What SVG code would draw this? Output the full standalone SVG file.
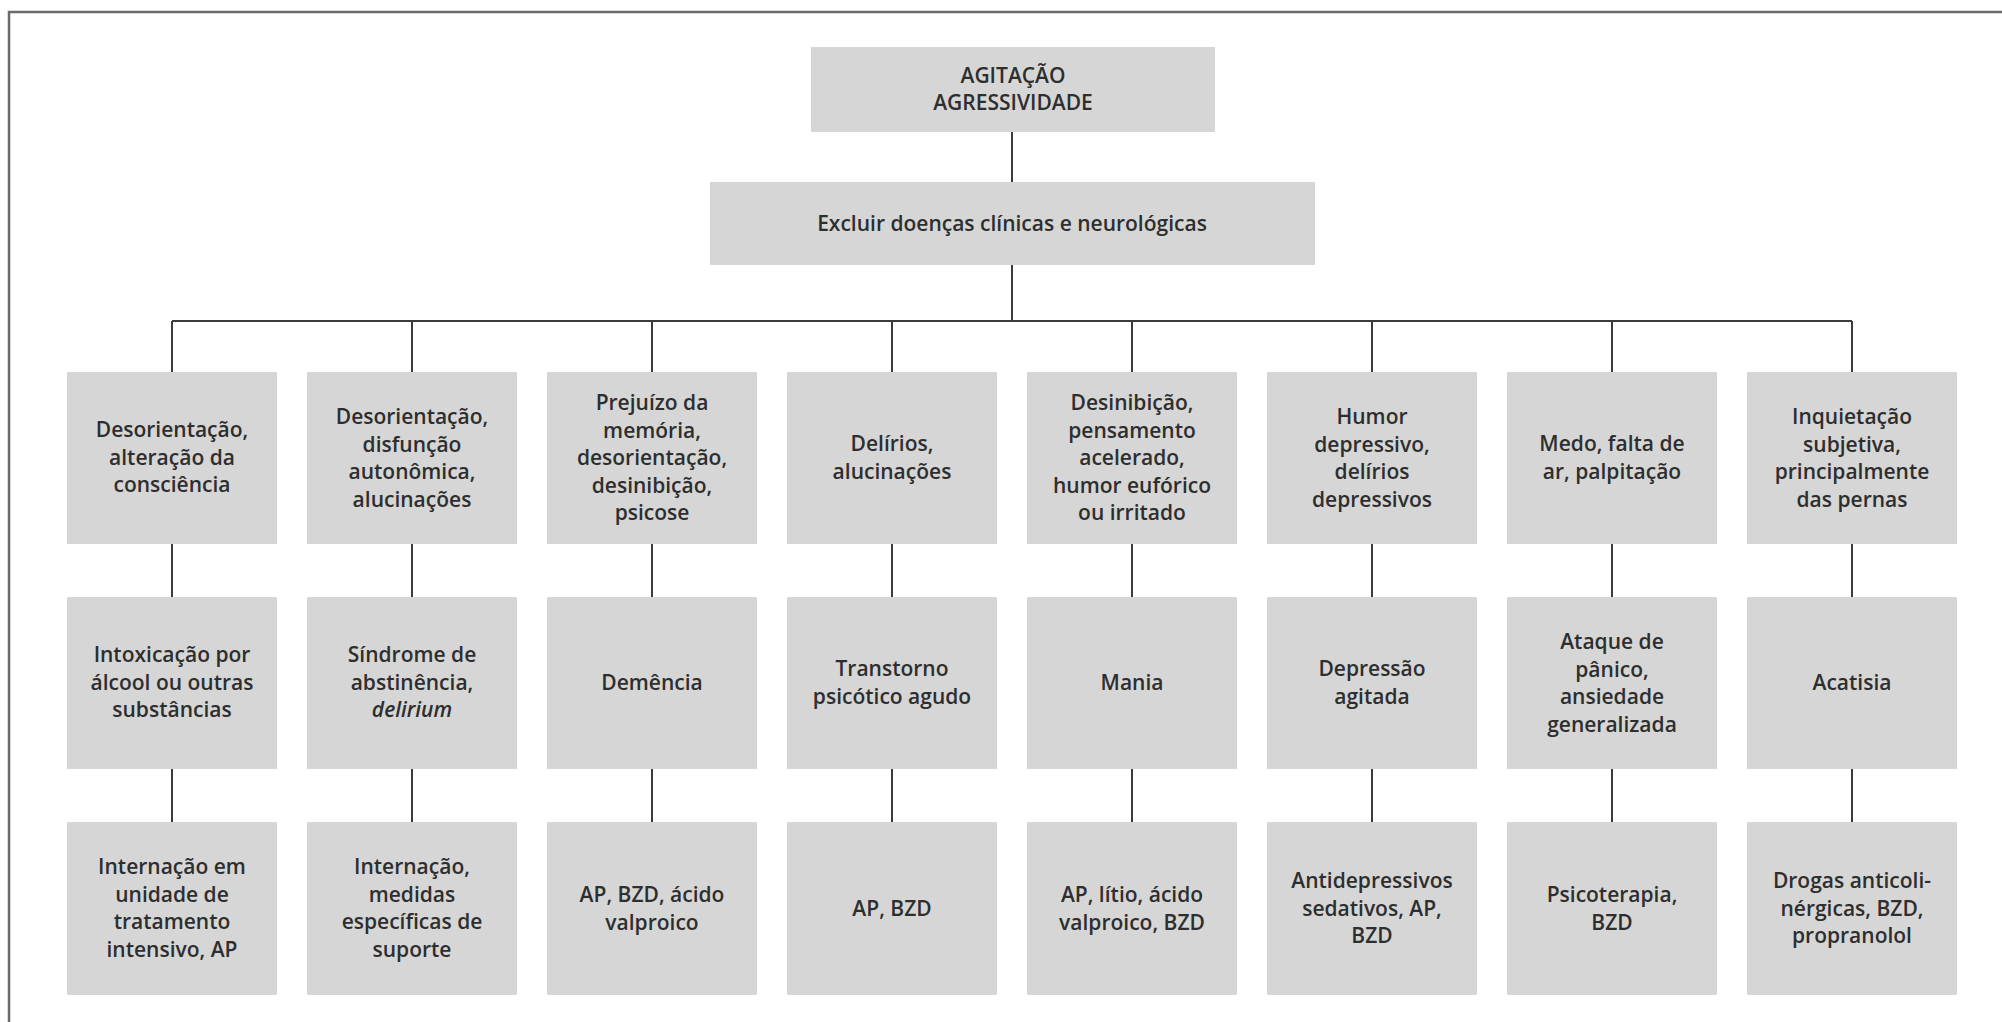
<svg xmlns="http://www.w3.org/2000/svg" width="2002" height="1022" viewBox="0 0 2002 1022">
  <style>
    .frame { stroke: #6a6a6a; stroke-width: 2.5; fill: none; }
    .box { fill: #d6d6d6; }
    .link { stroke: #3c3c3c; stroke-width: 2; fill: none; }
    .lbl { font-family: "Open Sans", "Noto Sans", "DejaVu Sans", sans-serif; font-size: 21px; font-weight: 600; fill: #2e2e2e; text-anchor: middle; }
    .it { font-style: italic; }
  </style>

  <!-- page frame (top and left edges) -->
  <path class="frame" d="M9,1022 V12 H2002"/>

  <!-- connectors -->
  <g id="connectors">
    <line class="link" x1="1012" y1="132" x2="1012" y2="182"/>
    <line class="link" x1="1012" y1="265" x2="1012" y2="321"/>
    <line class="link" x1="172" y1="321" x2="1852" y2="321"/>
    <path class="link" d="M172,321 V372 M172,544 V597 M172,769 V822"/>
    <path class="link" d="M412,321 V372 M412,544 V597 M412,769 V822"/>
    <path class="link" d="M652,321 V372 M652,544 V597 M652,769 V822"/>
    <path class="link" d="M892,321 V372 M892,544 V597 M892,769 V822"/>
    <path class="link" d="M1132,321 V372 M1132,544 V597 M1132,769 V822"/>
    <path class="link" d="M1372,321 V372 M1372,544 V597 M1372,769 V822"/>
    <path class="link" d="M1612,321 V372 M1612,544 V597 M1612,769 V822"/>
    <path class="link" d="M1852,321 V372 M1852,544 V597 M1852,769 V822"/>
  </g>

  <!-- root -->
  <g id="root">
    <rect class="box" x="811" y="47" width="404" height="85"/>
    <text class="lbl" x="1013" y="83">AGITAÇÃO<tspan x="1013" dy="27">AGRESSIVIDADE</tspan></text>
  </g>

  <g id="exclude">
    <rect class="box" x="710" y="182" width="605" height="83"/>
    <text class="lbl" x="1012" y="231">Excluir doenças clínicas e neurológicas</text>
  </g>

  <!-- column 1 -->
  <g id="c1-sign">
    <rect class="box" x="67" y="372" width="210" height="172"/>
    <text class="lbl" x="172" y="437">Desorientação,<tspan x="172" dy="27.5">alteração da</tspan><tspan x="172" dy="27.5">consciência</tspan></text>
  </g>
  <g id="c1-dx">
    <rect class="box" x="67" y="597" width="210" height="172"/>
    <text class="lbl" x="172" y="662">Intoxicação por<tspan x="172" dy="27.5">álcool ou outras</tspan><tspan x="172" dy="27.5">substâncias</tspan></text>
  </g>
  <g id="c1-tx">
    <rect class="box" x="67" y="822" width="210" height="173"/>
    <text class="lbl" x="172" y="874">Internação em<tspan x="172" dy="27.5">unidade de</tspan><tspan x="172" dy="27.5">tratamento</tspan><tspan x="172" dy="27.5">intensivo, AP</tspan></text>
  </g>

  <!-- column 2 -->
  <g id="c2-sign">
    <rect class="box" x="307" y="372" width="210" height="172"/>
    <text class="lbl" x="412" y="424">Desorientação,<tspan x="412" dy="27.5">disfunção</tspan><tspan x="412" dy="27.5">autonômica,</tspan><tspan x="412" dy="27.5">alucinações</tspan></text>
  </g>
  <g id="c2-dx">
    <rect class="box" x="307" y="597" width="210" height="172"/>
    <text class="lbl" x="412" y="662">Síndrome de<tspan x="412" dy="27.5">abstinência,</tspan><tspan class="it" x="412" dy="27.5">delirium</tspan></text>
  </g>
  <g id="c2-tx">
    <rect class="box" x="307" y="822" width="210" height="173"/>
    <text class="lbl" x="412" y="874">Internação,<tspan x="412" dy="27.5">medidas</tspan><tspan x="412" dy="27.5">específicas de</tspan><tspan x="412" dy="27.5">suporte</tspan></text>
  </g>

  <!-- column 3 -->
  <g id="c3-sign">
    <rect class="box" x="547" y="372" width="210" height="172"/>
    <text class="lbl" x="652" y="410">Prejuízo da<tspan x="652" dy="27.5">memória,</tspan><tspan x="652" dy="27.5">desorientação,</tspan><tspan x="652" dy="27.5">desinibição,</tspan><tspan x="652" dy="27.5">psicose</tspan></text>
  </g>
  <g id="c3-dx">
    <rect class="box" x="547" y="597" width="210" height="172"/>
    <text class="lbl" x="652" y="690">Demência</text>
  </g>
  <g id="c3-tx">
    <rect class="box" x="547" y="822" width="210" height="173"/>
    <text class="lbl" x="652" y="902">AP, BZD, ácido<tspan x="652" dy="27.5">valproico</tspan></text>
  </g>

  <!-- column 4 -->
  <g id="c4-sign">
    <rect class="box" x="787" y="372" width="210" height="172"/>
    <text class="lbl" x="892" y="451">Delírios,<tspan x="892" dy="27.5">alucinações</tspan></text>
  </g>
  <g id="c4-dx">
    <rect class="box" x="787" y="597" width="210" height="172"/>
    <text class="lbl" x="892" y="676">Transtorno<tspan x="892" dy="27.5">psicótico agudo</tspan></text>
  </g>
  <g id="c4-tx">
    <rect class="box" x="787" y="822" width="210" height="173"/>
    <text class="lbl" x="892" y="916">AP, BZD</text>
  </g>

  <!-- column 5 -->
  <g id="c5-sign">
    <rect class="box" x="1027" y="372" width="210" height="172"/>
    <text class="lbl" x="1132" y="410">Desinibição,<tspan x="1132" dy="27.5">pensamento</tspan><tspan x="1132" dy="27.5">acelerado,</tspan><tspan x="1132" dy="27.5">humor eufórico</tspan><tspan x="1132" dy="27.5">ou irritado</tspan></text>
  </g>
  <g id="c5-dx">
    <rect class="box" x="1027" y="597" width="210" height="172"/>
    <text class="lbl" x="1132" y="690">Mania</text>
  </g>
  <g id="c5-tx">
    <rect class="box" x="1027" y="822" width="210" height="173"/>
    <text class="lbl" x="1132" y="902">AP, lítio, ácido<tspan x="1132" dy="27.5">valproico, BZD</tspan></text>
  </g>

  <!-- column 6 -->
  <g id="c6-sign">
    <rect class="box" x="1267" y="372" width="210" height="172"/>
    <text class="lbl" x="1372" y="424">Humor<tspan x="1372" dy="27.5">depressivo,</tspan><tspan x="1372" dy="27.5">delírios</tspan><tspan x="1372" dy="27.5">depressivos</tspan></text>
  </g>
  <g id="c6-dx">
    <rect class="box" x="1267" y="597" width="210" height="172"/>
    <text class="lbl" x="1372" y="676">Depressão<tspan x="1372" dy="27.5">agitada</tspan></text>
  </g>
  <g id="c6-tx">
    <rect class="box" x="1267" y="822" width="210" height="173"/>
    <text class="lbl" x="1372" y="888">Antidepressivos<tspan x="1372" dy="27.5">sedativos, AP,</tspan><tspan x="1372" dy="27.5">BZD</tspan></text>
  </g>

  <!-- column 7 -->
  <g id="c7-sign">
    <rect class="box" x="1507" y="372" width="210" height="172"/>
    <text class="lbl" x="1612" y="451">Medo, falta de<tspan x="1612" dy="27.5">ar, palpitação</tspan></text>
  </g>
  <g id="c7-dx">
    <rect class="box" x="1507" y="597" width="210" height="172"/>
    <text class="lbl" x="1612" y="649">Ataque de<tspan x="1612" dy="27.5">pânico,</tspan><tspan x="1612" dy="27.5">ansiedade</tspan><tspan x="1612" dy="27.5">generalizada</tspan></text>
  </g>
  <g id="c7-tx">
    <rect class="box" x="1507" y="822" width="210" height="173"/>
    <text class="lbl" x="1612" y="902">Psicoterapia,<tspan x="1612" dy="27.5">BZD</tspan></text>
  </g>

  <!-- column 8 -->
  <g id="c8-sign">
    <rect class="box" x="1747" y="372" width="210" height="172"/>
    <text class="lbl" x="1852" y="424">Inquietação<tspan x="1852" dy="27.5">subjetiva,</tspan><tspan x="1852" dy="27.5">principalmente</tspan><tspan x="1852" dy="27.5">das pernas</tspan></text>
  </g>
  <g id="c8-dx">
    <rect class="box" x="1747" y="597" width="210" height="172"/>
    <text class="lbl" x="1852" y="690">Acatisia</text>
  </g>
  <g id="c8-tx">
    <rect class="box" x="1747" y="822" width="210" height="173"/>
    <text class="lbl" x="1852" y="888">Drogas anticoli-<tspan x="1852" dy="27.5">nérgicas, BZD,</tspan><tspan x="1852" dy="27.5">propranolol</tspan></text>
  </g>
</svg>
